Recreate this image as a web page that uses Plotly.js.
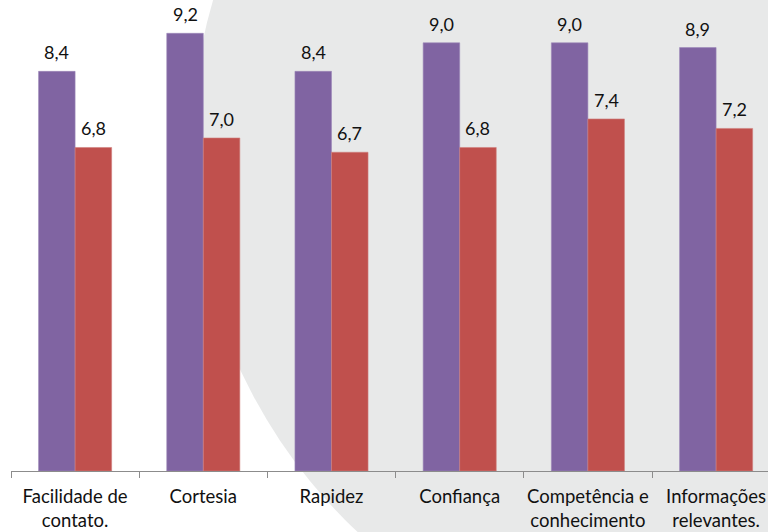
<!DOCTYPE html>
<html>
<head>
<meta charset="utf-8">
<script src="https://cdn.plot.ly/plotly-3.0.1.min.js"></script>
<style>
  html, body { margin: 0; padding: 0; background: #ffffff; overflow: hidden; }
  #chart { width: 768px; height: 532px; }
</style>
</head>
<body>
<div id="chart"></div>
<script>
// Service quality ratings by attribute, two groups of respondents
const categories = [
  'Facilidade de<br>contato.',
  'Cortesia',
  'Rapidez',
  'Confiança',
  'Competência e<br>conhecimento',
  'Informações<br>relevantes.'
];
const seriesA = [8.4, 9.2, 8.4, 9.0, 9.0, 8.9];
const seriesB = [6.8, 7.0, 6.7, 6.8, 7.4, 7.2];

const W = 768, H = 532;
const margin = { l: 11, r: 0, t: 0, b: 61 };
const plotW = W - margin.l - margin.r;
const plotH = H - margin.t - margin.b;

// One category slot is ~128px wide; the last slot runs past the right edge.
const slot = 128.2;
const xMax = -0.5 + plotW / slot;
const bargap = 0.43;
const barPx = slot * (1 - bargap) / 2;

// Decorative background disc (pixel geometry converted to paper units)
const disc = { cx: 716, cy: 149, r: 524.5 };
const toPaperX = px => (px - margin.l) / plotW;
const toPaperY = py => (margin.t + plotH - py) / plotH;

const font = 'Lato, "Open Sans", sans-serif';
const fmt = v => v.toFixed(1).replace('.', ',');

const traces = [
  {
    type: 'bar', x: categories, y: seriesA,
    marker: { color: '#8064A2', line: { color: '#9C88B8', width: 0.6 } },
    hoverinfo: 'skip'
  },
  {
    type: 'bar', x: categories, y: seriesB,
    marker: { color: '#C0504D', line: { color: '#D0807E', width: 0.6 } },
    hoverinfo: 'skip'
  }
];

// Value labels centred above each bar
const labelFor = (vals, side) => vals.map((v, i) => ({
  xref: 'x', yref: 'y', x: categories[i], y: v,
  text: fmt(v), showarrow: false,
  xanchor: 'center', yanchor: 'middle',
  xshift: side * barPx / 2, yshift: 19,
  font: { family: font, size: 18, color: '#111111' }
}));

const layout = {
  width: W, height: H,
  margin: margin,
  paper_bgcolor: '#ffffff',
  plot_bgcolor: 'rgba(0,0,0,0)',
  showlegend: false,
  barmode: 'group',
  bargap: bargap,
  bargroupgap: 0,
  font: { family: font, size: 18, color: '#111111' },
  xaxis: {
    type: 'category',
    range: [-0.5, xMax],
    showline: true, linecolor: '#8C8C8C', linewidth: 1.2,
    ticks: 'outside', tickson: 'boundaries', ticklen: 6,
    tickcolor: '#8C8C8C', tickwidth: 1,
    tickangle: 0,
    ticklabelstandoff: 9,
    tickfont: { family: font, size: 18.5, color: '#111111' },
    showgrid: false, zeroline: false, fixedrange: true
  },
  yaxis: {
    range: [0, 9.9],
    visible: false, showgrid: false, zeroline: false, fixedrange: true
  },
  annotations: labelFor(seriesA, -1).concat(labelFor(seriesB, 1)),
  shapes: [{
    type: 'circle', xref: 'paper', yref: 'paper', layer: 'below',
    x0: toPaperX(disc.cx - disc.r), x1: toPaperX(disc.cx + disc.r),
    y0: toPaperY(disc.cy + disc.r), y1: toPaperY(disc.cy - disc.r),
    fillcolor: '#E8E9E9', line: { width: 0 }
  }]
};

Plotly.newPlot('chart', traces, layout, { displayModeBar: false, staticPlot: true });
</script>
</body>
</html>
